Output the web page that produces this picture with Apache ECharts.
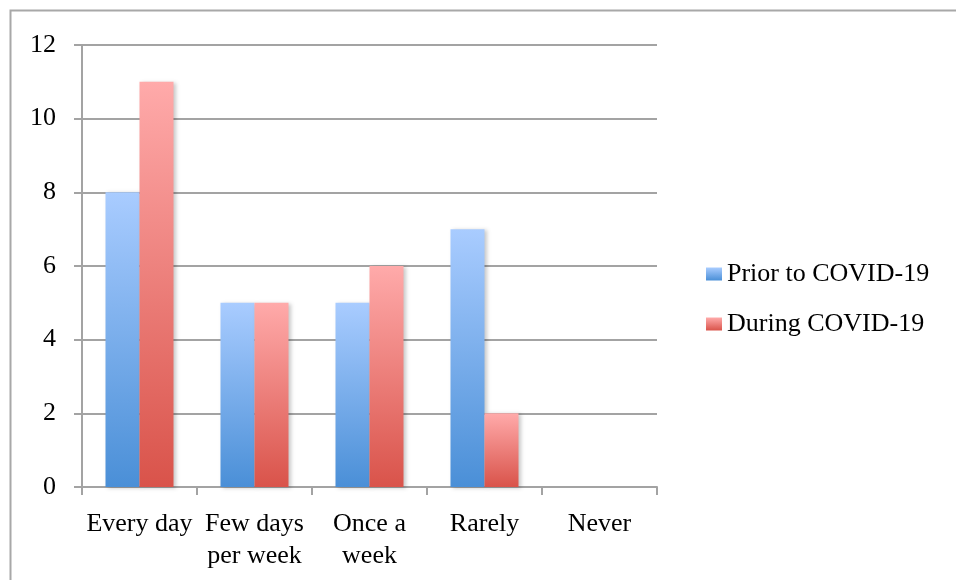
<!DOCTYPE html>
<html>
<head>
<meta charset="utf-8">
<script src="https://cdn.jsdelivr.net/npm/echarts@6/dist/echarts.min.js"></script>
<style>
  html, body { margin: 0; padding: 0; background: #fff; }
  #chart { width: 956px; height: 580px; }
</style>
</head>
<body>
<div id="chart"></div>
<script>
// Frequency categories and counts per period
const categories = ['Every day', 'Few days\nper week', 'Once a\nweek', 'Rarely', 'Never'];
const priorValues = [8, 5, 5, 7, 0];
const duringValues = [11, 5, 6, 2, 0];
const seriesNames = ['Prior to COVID-19', 'During COVID-19'];

const FONT = 'Liberation Serif';
const FONT_SIZE = 26;
const GRID_COLOR = '#a3a3a3';

function vGrad(top, bottom) {
  return new echarts.graphic.LinearGradient(0, 0, 0, 1, [
    { offset: 0, color: top },
    { offset: 1, color: bottom }
  ]);
}

const barShadow = {
  shadowBlur: 4,
  shadowOffsetX: 2,
  shadowOffsetY: 1,
  shadowColor: 'rgba(0,0,0,0.22)'
};

const chart = echarts.init(document.getElementById('chart'), null, { renderer: 'canvas' });

chart.setOption({
  animation: false,
  backgroundColor: '#ffffff',
  textStyle: { fontFamily: FONT },
  graphic: [{
    type: 'rect',
    shape: { x: 10.5, y: 10.5, width: 980, height: 620 },
    style: { fill: 'none', stroke: '#a8a8a8', lineWidth: 2 },
    silent: true,
    z: -10
  }],
  grid: { left: 82, right: 299, top: 45, bottom: 93, containLabel: false },
  legend: {
    orient: 'vertical',
    left: 706,
    top: 261,
    padding: 0,
    itemWidth: 16,
    itemHeight: 13,
    itemGap: 24,
    icon: 'rect',
    textStyle: { fontFamily: FONT, fontSize: FONT_SIZE, color: '#000' },
    data: seriesNames
  },
  xAxis: {
    type: 'category',
    data: categories,
    axisLine: { lineStyle: { color: GRID_COLOR, width: 2 } },
    axisTick: { show: true, length: 8, alignWithLabel: false, lineStyle: { color: GRID_COLOR, width: 2 } },
    axisLabel: {
      interval: 0,
      margin: 21,
      color: '#000',
      fontFamily: FONT,
      fontSize: FONT_SIZE,
      lineHeight: 32,
      align: 'center'
    },
    splitLine: { show: false }
  },
  yAxis: {
    type: 'value',
    min: 0,
    max: 12,
    interval: 2,
    axisLine: { show: true, lineStyle: { color: GRID_COLOR, width: 2 } },
    axisTick: { show: true, length: 8, lineStyle: { color: GRID_COLOR, width: 2 } },
    axisLabel: { margin: 26, color: '#000', fontFamily: FONT, fontSize: FONT_SIZE },
    splitLine: { show: true, lineStyle: { color: GRID_COLOR, width: 2 } }
  },
  series: [
    {
      name: seriesNames[0],
      type: 'bar',
      data: priorValues,
      barWidth: 34,
      barGap: '0%',
      itemStyle: Object.assign({ color: vGrad('#a9ccff', '#4a8fd7') }, barShadow)
    },
    {
      name: seriesNames[1],
      type: 'bar',
      data: duringValues,
      barWidth: 34,
      barGap: '0%',
      itemStyle: Object.assign({ color: vGrad('#ffaaaa', '#d9534a') }, barShadow)
    }
  ]
});
</script>
</body>
</html>
